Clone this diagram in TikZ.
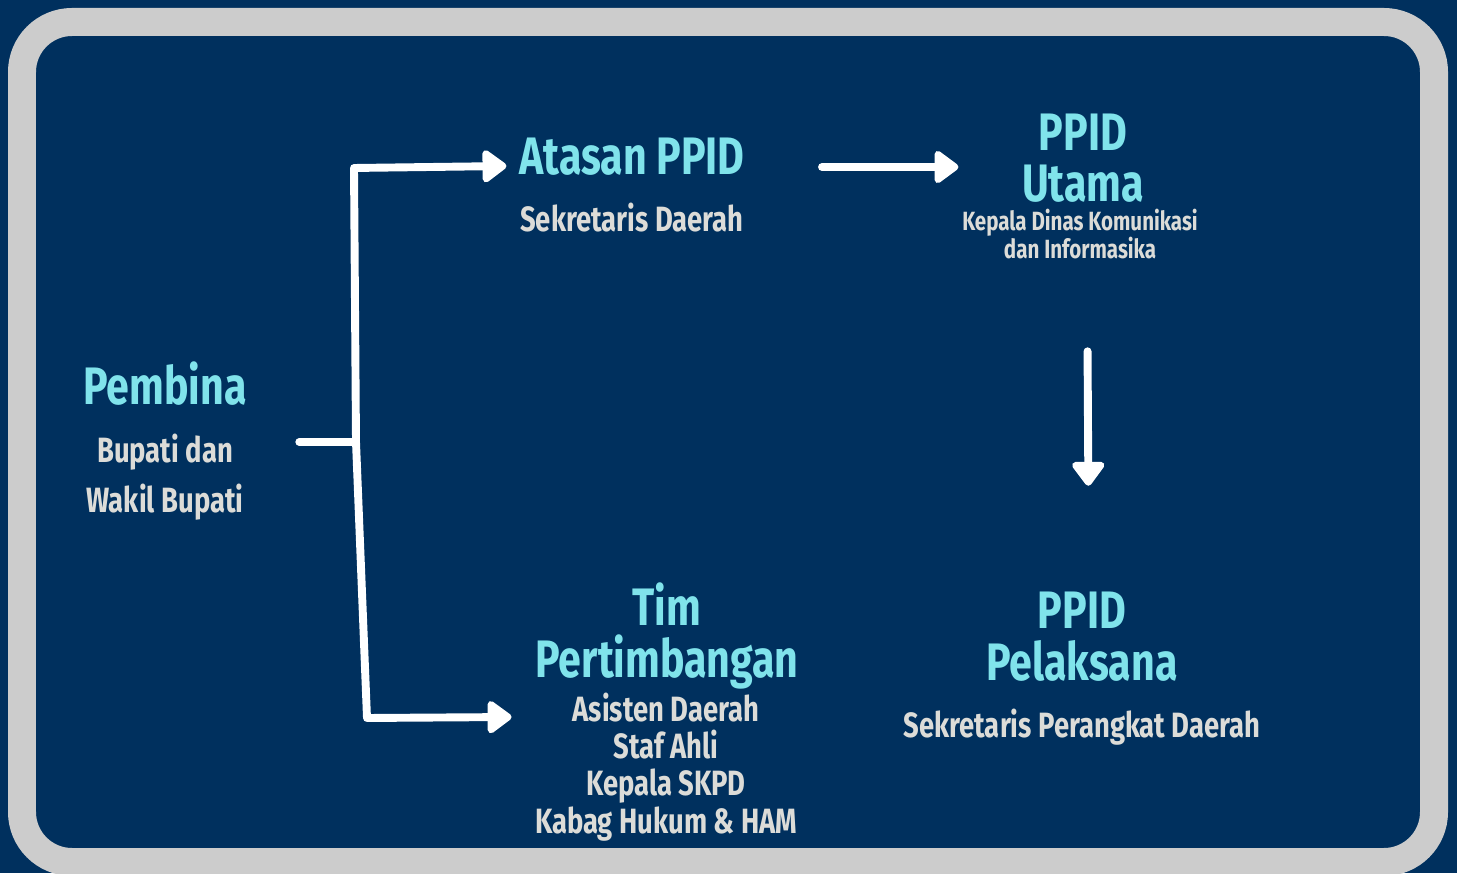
\documentclass[tikz,border=0pt]{standalone}
\usepackage{fontspec}
\setmainfont{Fira Sans}[FakeStretch=0.78]
\usetikzlibrary{arrows.meta, positioning, calc}
\definecolor{ppidnavy}{HTML}{00305E}
\definecolor{ppidframe}{HTML}{CCCCCC}
\definecolor{ppidcyan}{HTML}{80E3EB}
\definecolor{ppidgrey}{HTML}{DCDCD8}

\begin{document}
\begin{tikzpicture}[x=0.02cm, y=0.02cm,
        title/.style={align=center, inner sep=2pt, text=ppidcyan, font=\fontsize{30}{29.5}\selectfont\bfseries},
        sub/.style={align=center, inner sep=2pt, text=ppidgrey, font=\fontsize{20}{21.2}\selectfont\bfseries},
        link/.style={white, line width=4.5pt, line cap=round, line join=round},
        arrow/.style={link, -{Triangle[length=15pt, width=21pt, round]}}
    ]
        \useasboundingbox (0,0) rectangle (1457,873);
        \fill[ppidnavy] (0,0) rectangle (1457,873);
        \draw[ppidframe, line width=0.56cm, rounded corners=1cm] (22,851) rectangle (1434,11);

        % base anchor = baseline of the last line
        \node (pembina) [title, anchor=base] at (165,468) {Pembina};
        \node (pembinasub) [sub, anchor=base, font=\fontsize{20}{28.9}\selectfont\bfseries] at (165,360) {Bupati dan\\Wakil Bupati};

        \node (atasan) [title, anchor=base] at (632,698) {Atasan PPID};
        \node (atasansub) [sub, anchor=base] at (632,641) {Sekretaris Daerah};

        \node (utama) [title, anchor=base] at (1083,671) {PPID\\Utama};
        \node (utamasub) [sub, anchor=base, font=\fontsize{15}{14.2}\selectfont\bfseries] at (1080,614) {Kepala Dinas Komunikasi\\dan Informasika};

        \node (tim) [title, anchor=base] at (667,196) {Tim\\Pertimbangan};
        \node (timsub) [sub, anchor=base] at (666,40) {Asisten Daerah\\Staf Ahli\\Kepala SKPD\\Kabag Hukum \& HAM};

        \node (pelaksana) [title, anchor=base] at (1082,193) {PPID\\Pelaksana};
        \node (pelaksanasub) [sub, anchor=base] at (1082,136) {Sekretaris Perangkat Daerah};

        \coordinate (forkmid) at (356,431);
        \coordinate (forktop) at (354,705);
        \coordinate (forkbot) at (367,155);
        \coordinate (toprow) at (0,706);

        \draw [link, shorten <=1.04cm] (pembinasub.east |- forkmid) -- (forkmid);
        \draw [arrow] (forkmid) -- (forktop) -- ($(atasan.west |- forktop)+(-9,2)$);
        \draw [arrow] (forkmid) -- (forkbot) -- ($(tim.west |- forkbot)+(-20,1)$);
        \draw [arrow, shorten <=1.47cm] (atasan.east |- toprow) -- (utamasub.west |- toprow);
        \draw [arrow, shorten <=1.76cm, shorten >=2.04cm] ([xshift=0.14cm]utamasub.south) -- ([xshift=0.14cm]pelaksana.north);
    \end{tikzpicture}
\end{document}
